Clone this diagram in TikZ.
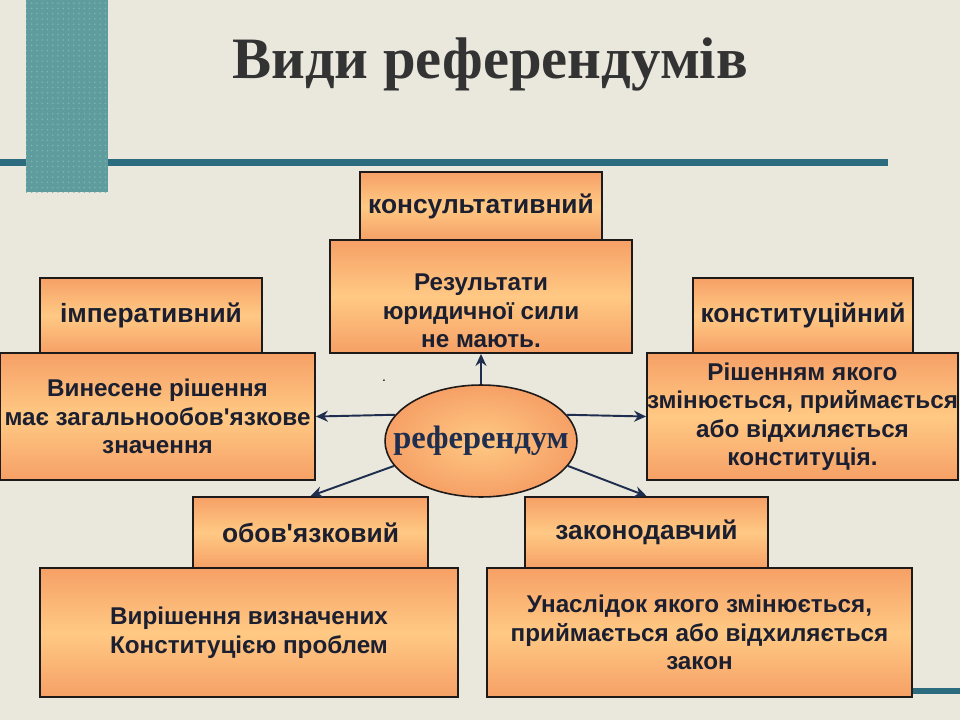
\documentclass[tikz,border=0pt]{standalone}
\usepackage{fontspec}
\setmainfont{Liberation Serif}
\newfontfamily\boxfont{Liberation Sans}
\usetikzlibrary{arrows.meta,shapes.geometric,patterns}
\definecolor{RefPaper}{HTML}{EAE8DD}
\definecolor{RefTeal}{HTML}{5E9C9E}
\definecolor{RefTealDot}{HTML}{80B4B4}
\definecolor{RefTealDark}{HTML}{2D6C7E}
\definecolor{RefOrangeEdge}{HTML}{F6A066}
\definecolor{RefOrangeMid}{HTML}{FFC984}
\definecolor{RefEdge}{HTML}{1E1A1A}
\definecolor{RefInk}{HTML}{1B1F30}
\definecolor{RefTitle}{HTML}{333333}
\definecolor{RefNavy}{HTML}{1F2E4E}
\tikzset{
  rbox/.style={draw=RefEdge,line width=1.1pt,top color=RefOrangeEdge,bottom color=RefOrangeEdge,
    middle color=RefOrangeMid,align=center,inner sep=0pt,text=RefInk,
    font=\boxfont\bfseries\fontsize{15}{16}\selectfont},
  rhead/.style={rbox,minimum height=1.5cm},
  rbody/.style={rbox,font=\boxfont\bfseries\fontsize{13.8}{16.2}\selectfont},
  rellipse/.style={ellipse,draw=RefEdge,line width=0.9pt,inner color=RefOrangeMid,
    outer color=RefOrangeEdge,minimum width=3.84cm,minimum height=2.24cm,inner sep=0pt,
    text=RefNavy,font=\bfseries\fontsize{18.5}{22}\selectfont},
  rarrow/.style={-{Stealth[length=2.4mm,width=2.2mm,inset=0.8mm]},line width=1.1pt,RefNavy},
  rtitle/.style={text=RefTitle,font=\bfseries\fontsize{33.4}{38}\selectfont}
}
\begin{document}
\begin{tikzpicture}[x=0.02cm,y=-0.02cm]
  \useasboundingbox (0,0) rectangle (960,720);
  \fill[RefPaper] (0,0) rectangle (960,720);
  % slide decoration
  \fill[RefTealDark] (0,159) rectangle (888,166);
  \fill[RefTeal] (26,0) rectangle (108,192);
  \fill[pattern=dots,pattern color=RefTealDot] (26,0) rectangle (108,192);
  \fill[RefTealDark] (912,688) rectangle (960,694);

  \node[rtitle] (title) at (490,64) {Види референдумів};

  % top
  \node[rhead,minimum width=4.84cm,minimum height=1.36cm] (hcons) at (481,206) {консультативний};
  \node[rbody,minimum width=6.04cm,minimum height=2.26cm] (bcons) at (481,296.5)
    {\rule{0pt}{26pt}Результати\\юридичної сили\\не мають.};
  % left
  \node[rhead,minimum width=4.44cm] (himp) at (151,315.5) {імперативний};
  \node[rbody,minimum width=6.3cm,minimum height=2.54cm] (bimp) at (157.5,416.5)
    {Винесене рішення\\має загальнообов'язкове\\значення};
  % right
  \node[rhead,minimum width=4.4cm] (hconst) at (803,315.5) {конституційний};
  \node[rbody,minimum width=6.22cm,minimum height=2.54cm] (bconst) at (802.5,416.5)
    {Рішенням якого\\змінюється, приймається\\або відхиляється\\конституція.};
  % bottom
  \node[rhead,minimum width=4.7cm,minimum height=1.42cm] (hobl) at (310.5,532.5) {обов'язковий};
  \node[rbody,minimum width=8.36cm,minimum height=2.58cm] (bobl) at (249,632.5)
    {Вирішення визначених\\Конституцією проблем};
  \node[rhead,minimum width=4.86cm,minimum height=1.42cm] (hzak) at (646.5,532.5) {законодавчий};
  \node[rbody,minimum width=8.5cm,minimum height=2.58cm] (bzak) at (699.5,632.5)
    {Унаслідок якого змінюється,\\приймається або відхиляється\\закон};

  \node[rellipse] (ell) at (481,441) {\makebox[0pt]{референдум}};
  \node[font=\boxfont\fontsize{8}{9}\selectfont,inner sep=0pt] (dot) at (384,381) {.};

  \foreach \ang/\dest in {90/bcons.south,163/bimp.east,17/bconst.west,196/hobl.north,344/hzak.north}
    \draw[rarrow] (ell.\ang) -- (\dest);
\end{tikzpicture}
\end{document}
